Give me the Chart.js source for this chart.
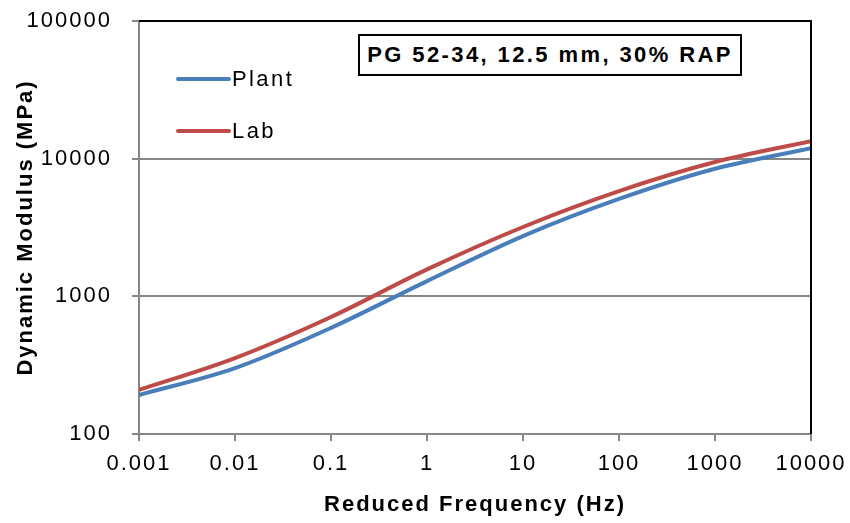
<!DOCTYPE html>
<html>
<head>
<meta charset="utf-8">
<script src="https://cdn.jsdelivr.net/npm/chart.js@4/dist/chart.umd.min.js"></script>
<style>
  html, body { margin: 0; padding: 0; background: #fff; }
  #wrap { position: relative; width: 850px; height: 523px; }
  #note {
    position: absolute; left: 358px; top: 34px; width: 380px; height: 38px;
    border: 2px solid #000; background: #fff;
    font: bold 22px "Liberation Sans", Arial, sans-serif; color: #000;
    letter-spacing: 2.4px;
    display: flex; align-items: center; justify-content: center; white-space: nowrap;
  }
</style>
</head>
<body>
<div id="wrap">
  <canvas id="c" width="850" height="523"></canvas>
  <div id="note">PG 52-34, 12.5 mm, 30% RAP</div>
</div>
<script>
const frequency = [0.001, 0.01, 0.1, 1, 10, 100, 1000, 10000];
const plantModulus = [192, 301, 590, 1290, 2740, 5100, 8450, 11900];
const labModulus = [209, 356, 708, 1570, 3190, 5810, 9450, 13400];
const seriesNames = ['Plant', 'Lab'];
const xTickValues = [0.001, 0.01, 0.1, 1, 10, 100, 1000, 10000];
const xTickLabels = ['0.001', '0.01', '0.1', '1', '10', '100', '1000', '10000'];
const yTickValues = [100, 1000, 10000, 100000];
const yTickLabels = ['100', '1000', '10000', '100000'];

const FONT = '"Liberation Sans", Arial, sans-serif';
const GRAY = '#868686';

const spacingPlugin = {
  id: 'textSpacing',
  beforeLayout(chart) { chart.ctx.letterSpacing = '2px'; },
  beforeDraw(chart) { chart.ctx.letterSpacing = '2px'; }
};

const borderPlugin = {
  id: 'plotBorder',
  afterDatasetsDraw(chart) {
    const a = chart.chartArea, ctx = chart.ctx;
    ctx.save();
    ctx.strokeStyle = '#000';
    ctx.lineWidth = 2;
    ctx.beginPath();
    ctx.moveTo(a.left, a.top);
    ctx.lineTo(a.right, a.top);
    ctx.lineTo(a.right, a.bottom);
    ctx.stroke();
    ctx.restore();
  }
};

const legendPlugin = {
  id: 'insideLegend',
  afterDraw(chart) {
    const ctx = chart.ctx;
    ctx.save();
    ctx.letterSpacing = '2.4px';
    chart.data.datasets.forEach((ds, i) => {
      const y = 79 + i * 52;
      ctx.strokeStyle = ds.borderColor;
      ctx.lineWidth = 4;
      ctx.lineCap = 'round';
      ctx.beginPath();
      ctx.moveTo(178, y);
      ctx.lineTo(229, y);
      ctx.stroke();
      ctx.fillStyle = '#000';
      ctx.font = '22px ' + FONT;
      ctx.textBaseline = 'middle';
      ctx.textAlign = 'left';
      ctx.fillText(ds.label, 232, y + 1);
    });
    ctx.restore();
  }
};

new Chart(document.getElementById('c'), {
  type: 'line',
  data: {
    datasets: [
      {
        label: seriesNames[0],
        data: frequency.map((f, i) => ({ x: f, y: plantModulus[i] })),
        borderColor: '#4A7EBB', borderWidth: 4, pointRadius: 0,
        cubicInterpolationMode: 'monotone', order: 1
      },
      {
        label: seriesNames[1],
        data: frequency.map((f, i) => ({ x: f, y: labModulus[i] })),
        borderColor: '#BE4B48', borderWidth: 4, pointRadius: 0,
        cubicInterpolationMode: 'monotone', order: 0
      }
    ]
  },
  options: {
    responsive: false,
    animation: false,
    layout: { padding: { left: 0, right: 39, top: 21, bottom: 0 } },
    plugins: { legend: { display: false }, tooltip: { enabled: false } },
    scales: {
      x: {
        type: 'logarithmic',
        min: xTickValues[0], max: xTickValues[xTickValues.length - 1],
        afterBuildTicks: s => { s.ticks = xTickValues.map(v => ({ value: v })); },
        afterFit: s => { s.height = 89; s.paddingLeft = 0; s.paddingRight = 0; },
        ticks: {
          autoSkip: false, maxRotation: 0, color: '#000', padding: 10,
          font: { family: FONT, size: 22 },
          callback: (v, i) => xTickLabels[i]
        },
        grid: { drawOnChartArea: false, color: GRAY, lineWidth: 2, tickLength: 7 },
        border: { color: GRAY, width: 2 },
        title: {
          display: true, text: 'Reduced Frequency (Hz)', color: '#000',
          font: { family: FONT, size: 22, weight: 'bold' }, padding: { top: 0, bottom: 5 }
        }
      },
      y: {
        type: 'logarithmic',
        min: yTickValues[0], max: yTickValues[yTickValues.length - 1],
        afterBuildTicks: s => { s.ticks = yTickValues.map(v => ({ value: v })); },
        afterFit: s => { s.width = 139; s.paddingTop = 0; s.paddingBottom = 0; },
        ticks: {
          autoSkip: false, color: '#000', padding: 20,
          font: { family: FONT, size: 22 },
          callback: (v, i) => yTickLabels[i]
        },
        grid: { color: GRAY, lineWidth: 2, tickLength: 7 },
        border: { color: GRAY, width: 2 },
        title: {
          display: true, text: 'Dynamic Modulus (MPa)', color: '#000',
          font: { family: FONT, size: 22, weight: 'bold' }, padding: { top: 13, bottom: 0 }
        }
      }
    }
  },
  plugins: [spacingPlugin, borderPlugin, legendPlugin]
});
</script>
</body>
</html>
